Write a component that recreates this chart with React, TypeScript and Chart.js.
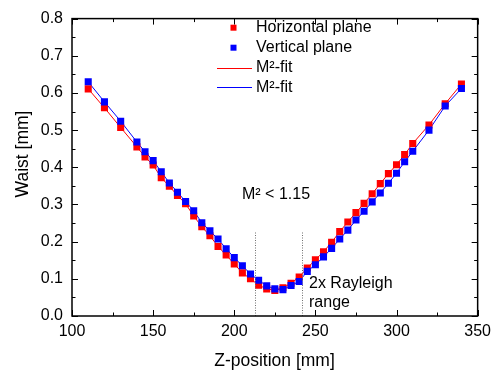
import React, { useEffect, useRef } from "react";
import { Chart, registerables } from "chart.js";

Chart.register(...registerables);

const zPositions = [110, 120, 130, 140, 145, 150, 155, 160, 165, 170, 175, 180, 185, 190, 195, 200, 205, 210, 215, 220, 225, 230, 235, 240, 245, 250, 255, 260, 265, 270, 275, 280, 285, 290, 295, 300, 305, 310, 320, 330, 340];

const horizontalWaist = [0.611, 0.560, 0.507, 0.455, 0.428, 0.406, 0.372, 0.349, 0.324, 0.302, 0.269, 0.240, 0.216, 0.187, 0.164, 0.140, 0.116, 0.100, 0.083, 0.073, 0.069, 0.076, 0.088, 0.105, 0.129, 0.151, 0.173, 0.198, 0.227, 0.253, 0.278, 0.303, 0.329, 0.356, 0.383, 0.407, 0.434, 0.464, 0.514, 0.571, 0.624];

const verticalWaist = [0.630, 0.576, 0.524, 0.468, 0.442, 0.418, 0.388, 0.358, 0.333, 0.308, 0.283, 0.251, 0.229, 0.207, 0.181, 0.157, 0.135, 0.113, 0.096, 0.081, 0.073, 0.071, 0.082, 0.093, 0.120, 0.138, 0.159, 0.182, 0.207, 0.231, 0.258, 0.282, 0.307, 0.331, 0.357, 0.384, 0.415, 0.443, 0.500, 0.565, 0.612];

const seriesLabels = ["Horizontal plane", "Vertical plane", "M²-fit", "M²-fit"];
const rayleighBounds = [213, 242];
const rayleighTop = 0.225;
const xTitle = "Z-position [mm]";
const yTitle = "Waist [mm]";
const m2Text = "M² < 1.15";
const rayleighText = ["2x Rayleigh", "range"];

const RED = "#ff0000";
const BLUE = "#0000ff";
const FONT = "'Liberation Sans', Arial, sans-serif";

const pts = (ys: number[]) => zPositions.map((x, i) => ({ x, y: ys[i] }));

const decorPlugin = {
  id: "decor",
  afterDraw(chart: any) {
    const { ctx, chartArea: a, scales } = chart;
    const xs = scales.x;
    const ys = scales.y;
    ctx.save();
    // dotted Rayleigh lines
    ctx.strokeStyle = "#707070";
    ctx.lineWidth = 1;
    ctx.setLineDash([1, 1.5]);
    rayleighBounds.forEach((b) => {
      const px = Math.round(xs.getPixelForValue(b)) + 0.5;
      ctx.beginPath();
      ctx.moveTo(px, ys.getPixelForValue(0));
      ctx.lineTo(px, ys.getPixelForValue(rayleighTop));
      ctx.stroke();
    });
    ctx.setLineDash([]);
    // frame
    ctx.strokeStyle = "#000";
    ctx.lineWidth = 1.5;
    ctx.strokeRect(a.left, a.top, a.right - a.left, a.bottom - a.top);
    // ticks
    ctx.lineWidth = 1;
    ctx.beginPath();
    for (let v = 100; v <= 350; v += 25) {
      const len = v % 50 === 0 ? 6 : 3.5;
      const px = Math.round(xs.getPixelForValue(v)) + 0.5;
      ctx.moveTo(px, a.bottom);
      ctx.lineTo(px, a.bottom - len);
      ctx.moveTo(px, a.top);
      ctx.lineTo(px, a.top + len);
    }
    for (let i = 0; i <= 16; i++) {
      const v = i * 0.05;
      const len = i % 2 === 0 ? 6 : 3.5;
      const py = Math.round(ys.getPixelForValue(v)) + 0.5;
      ctx.moveTo(a.left, py);
      ctx.lineTo(a.left + len, py);
      ctx.moveTo(a.right, py);
      ctx.lineTo(a.right - len, py);
    }
    ctx.stroke();
    // axis titles
    ctx.fillStyle = "#000";
    ctx.font = `17.5px ${FONT}`;
    ctx.textBaseline = "middle";
    ctx.textAlign = "center";
    ctx.fillText(xTitle, 274.5, 361);
    ctx.save();
    ctx.translate(23, 154);
    ctx.rotate(-Math.PI / 2);
    ctx.fillText(yTitle, 0, 0);
    ctx.restore();
    // annotations
    ctx.font = `16px ${FONT}`;
    ctx.textAlign = "left";
    ctx.fillText(m2Text, 242, 195);
    ctx.fillText(rayleighText[0], 309, 284);
    ctx.fillText(rayleighText[1], 309, 303);
    // legend
    const rows = [27.7, 47.7, 67.5, 87.3];
    ctx.fillStyle = RED;
    ctx.fillRect(230.5, rows[0] - 3, 6, 6);
    ctx.fillStyle = BLUE;
    ctx.fillRect(230.5, rows[1] - 3, 6, 6);
    ctx.lineWidth = 1;
    ctx.strokeStyle = RED;
    ctx.beginPath();
    ctx.moveTo(217, Math.round(rows[2]) + 0.5);
    ctx.lineTo(252, Math.round(rows[2]) + 0.5);
    ctx.stroke();
    ctx.strokeStyle = BLUE;
    ctx.beginPath();
    ctx.moveTo(217, Math.round(rows[3]) + 0.5);
    ctx.lineTo(252, Math.round(rows[3]) + 0.5);
    ctx.stroke();
    ctx.fillStyle = "#000";
    seriesLabels.forEach((t, i) => ctx.fillText(t, 256, rows[i]));
    ctx.restore();
  },
};

export default function App() {
  const ref = useRef<HTMLCanvasElement | null>(null);
  useEffect(() => {
    document.body.style.margin = "0";
    if (!ref.current) return;
    const chart = new Chart(ref.current, {
      type: "scatter",
      data: {
        datasets: [
          { label: seriesLabels[2], data: pts(horizontalWaist), showLine: true, borderColor: RED, borderWidth: 1, pointRadius: 0, order: 4 },
          { label: seriesLabels[3], data: pts(verticalWaist), showLine: true, borderColor: BLUE, borderWidth: 1, pointRadius: 0, order: 3 },
          { label: seriesLabels[0], data: pts(horizontalWaist), showLine: false, pointStyle: "rect", pointRadius: 5, backgroundColor: RED, borderColor: RED, borderWidth: 0, order: 2 },
          { label: seriesLabels[1], data: pts(verticalWaist), showLine: false, pointStyle: "rect", pointRadius: 5, backgroundColor: BLUE, borderColor: BLUE, borderWidth: 0, order: 1 },
        ],
      },
      options: {
        responsive: false,
        animation: false,
        layout: { padding: { left: 0, top: 15, right: 18, bottom: 0 } },
        plugins: { legend: { display: false }, tooltip: { enabled: false } },
        scales: {
          x: {
            type: "linear",
            min: 100,
            max: 350,
            grid: { display: false, drawTicks: false },
            border: { display: false },
            ticks: { stepSize: 50, color: "#000", font: { family: FONT, size: 16 }, padding: 6, maxRotation: 0 },
            afterFit: (s: any) => { s.height = 58; },
          },
          y: {
            min: 0,
            max: 0.8,
            grid: { display: false, drawTicks: false },
            border: { display: false },
            ticks: { stepSize: 0.1, color: "#000", font: { family: FONT, size: 16 }, padding: 9, callback: (v: any) => Number(v).toFixed(1) },
            afterFit: (s: any) => { s.width = 72; },
          },
        },
      },
      plugins: [decorPlugin],
    });
    return () => chart.destroy();
  }, []);
  return <canvas ref={ref} width={497} height={374} style={{ display: "block", width: 497, height: 374 }} />;
}
